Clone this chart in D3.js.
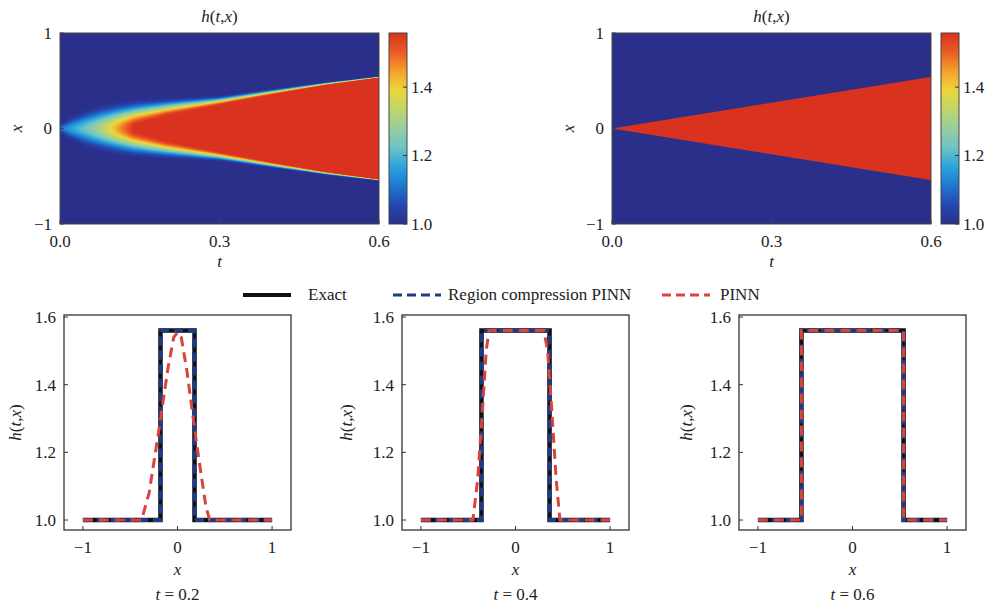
<!doctype html>
<html lang="en">
  <head>
    <meta charset="UTF-8" />
    <title>h(t,x) heat maps and profiles</title>
    <script src="https://cdn.jsdelivr.net/npm/d3@7"></script>
    <style>
      body { margin: 0; background: #fff; }
    </style>
  </head>
  <body>
    <div id="chart"></div>
    <script>
      // colour bar range and tick labels
      const hMin = 1.0;
      const hMax = 1.558;
      const barTicks = [1.0, 1.2, 1.4];
      const tTicks = [0.0, 0.3, 0.6];
      const xTicksTop = [-1, 0, 1];

      // exact solution: plateau height and front speed (x = speed * t)
      const hPlateau = 1.56;
      const frontSpeed = 0.9;

      // PINN heat map read column by column: centre value, plateau half width, outer half width
      const pinnT     = [0,    0.02, 0.05, 0.08, 0.11, 0.14, 0.2,  0.3,  0.4,  0.5,  0.6];
      const pinnPeak  = [1.1,  1.16, 1.23, 1.32, 1.45, 1.56, 1.56, 1.56, 1.56, 1.56, 1.56];
      const pinnInner = [0,    0,    0,    0,    0,    0.02, 0.12, 0.24, 0.35, 0.45, 0.53];
      const pinnOuter = [0.05, 0.14, 0.22, 0.27, 0.3,  0.32, 0.33, 0.35, 0.42, 0.49, 0.55];

      // profiles at t = 0.2, 0.4, 0.6
      const profileTimes = ["0.2", "0.4", "0.6"];
      const exactX = [
        [-1, -0.18, -0.18, 0.18, 0.18, 1],
        [-1, -0.36, -0.36, 0.36, 0.36, 1],
        [-1, -0.54, -0.54, 0.54, 0.54, 1]
      ];
      const exactH = [1, 1, 1.56, 1.56, 1, 1];
      const rcX = [
        [-1, -0.18, -0.175, 0.175, 0.18, 1],
        [-1, -0.36, -0.355, 0.355, 0.36, 1],
        [-1, -0.54, -0.54, 0.54, 0.54, 1]
      ];
      const rcH = [1, 1, 1.56, 1.56, 1, 1];
      const pinnX = [
        [-1, -0.38, -0.3, -0.2, -0.1, -0.04, 0, 0.04, 0.1, 0.2, 0.3, 0.34, 1],
        [-1, -0.45, -0.4, -0.35, -0.31, -0.28, 0.3, 0.34, 0.38, 0.43, 0.47, 1],
        [-1, -0.54, -0.54, 0.54, 0.54, 1]
      ];
      const pinnH = [
        [1, 1, 1.08, 1.26, 1.45, 1.54, 1.555, 1.54, 1.44, 1.23, 1.04, 1.0, 1],
        [1, 1, 1.12, 1.32, 1.5, 1.56, 1.56, 1.5, 1.34, 1.12, 1, 1],
        [1, 1, 1.56, 1.56, 1, 1]
      ];

      const legendNames = ["Exact", "Region compression PINN", "PINN"];

      const width = 991;
      const height = 603;
      const fs = 17;
      const svg = d3.select("#chart").append("svg")
        .attr("width", width)
        .attr("height", height)
        .attr("font-family", "Liberation Serif")
        .attr("font-size", fs)
        .attr("fill", "#222");

      // colormap (jet-like as printed)
      const cmapStops = [0, 0.1, 0.2, 0.3, 0.4, 0.5, 0.6, 0.7, 0.8, 0.9, 1];
      const cmapColors = ["#2a2f8a", "#2447b0", "#1e78d0", "#2aa5dc", "#6ec3c6", "#98cda0",
                          "#bfd667", "#ebd73c", "#f5a02c", "#ea5c24", "#d9321e"];
      const color = d3.scaleLinear()
        .domain(cmapStops.map(s => hMin + s * (hMax - hMin)))
        .range(cmapColors)
        .clamp(true);

      const peakAt = d3.scaleLinear().domain(pinnT).range(pinnPeak).clamp(true);
      const innerAt = d3.scaleLinear().domain(pinnT).range(pinnInner).clamp(true);
      const outerAt = d3.scaleLinear().domain(pinnT).range(pinnOuter).clamp(true);

      function pinnField(t, x) {
        const p = peakAt(t), a = innerAt(t), b = outerAt(t);
        const ax = Math.abs(x);
        if (ax <= a) return p;
        if (ax >= b) return 1;
        const s = (ax - a) / (b - a);
        return 1 + (p - 1) * 0.5 * (1 + Math.cos(Math.PI * s));
      }

      // exact field: blend straight from low to plateau colour across the front pixel
      const edgeMix = d3.interpolateRgb(color(1), color(hPlateau));
      function exactColor(t, x, px) {
        const f = Math.max(0, Math.min(1, (frontSpeed * t - Math.abs(x)) / px + 0.5));
        return edgeMix(f);
      }

      const topW = 319, topTop = 33, topBottom = 224;
      const topPanels = [
        { left: 60, field: "pinn" },
        { left: 612, field: "exact" }
      ];

      const defs = svg.append("defs");
      const grad = defs.append("linearGradient")
        .attr("id", "cbar").attr("x1", 0).attr("y1", 1).attr("x2", 0).attr("y2", 0);
      grad.selectAll("stop").data(cmapStops).enter().append("stop")
        .attr("offset", d => d)
        .attr("stop-color", (d, i) => cmapColors[i]);

      function italicLabel(g, parts) {
        parts.forEach(([s, it]) => {
          g.append("tspan").text(s).attr("font-style", it ? "italic" : "normal");
        });
      }
      const hLabel = [["h", true], ["(", false], ["t", true], [",", false], ["x", true], [")", false]];
      const minus = d => d < 0 ? "\u2212" + Math.abs(d) : d;

      topPanels.forEach(p => {
        const tx = d3.scaleLinear().domain([0, 0.6]).range([p.left, p.left + topW]);
        const xy = d3.scaleLinear().domain([-1, 1]).range([topBottom, topTop]);
        const g = svg.append("g");

        const w = topW, h = topBottom - topTop;
        const canvas = document.createElement("canvas");
        canvas.width = w; canvas.height = h;
        const ctx = canvas.getContext("2d");
        const img = ctx.createImageData(w, h);
        const pxUnit = 2 / h;
        for (let j = 0; j < h; j++) {
          const x = xy.invert(topTop + j + 0.5);
          for (let i = 0; i < w; i++) {
            const t = tx.invert(p.left + i + 0.5);
            const c = d3.rgb(p.field === "pinn" ? color(pinnField(t, x)) : exactColor(t, x, pxUnit));
            const k = (j * w + i) * 4;
            img.data[k] = c.r; img.data[k + 1] = c.g; img.data[k + 2] = c.b; img.data[k + 3] = 255;
          }
        }
        ctx.putImageData(img, 0, 0);
        g.append("image")
          .attr("x", p.left).attr("y", topTop)
          .attr("width", w).attr("height", h)
          .attr("preserveAspectRatio", "none")
          .attr("href", canvas.toDataURL());

        g.append("rect")
          .attr("x", p.left).attr("y", topTop).attr("width", w).attr("height", h)
          .attr("fill", "none").attr("stroke", "#444").attr("stroke-width", 1);

        // ticks inward
        g.selectAll(".tt").data(tTicks).enter().append("line")
          .attr("x1", d => tx(d)).attr("x2", d => tx(d))
          .attr("y1", topBottom).attr("y2", topBottom - 4)
          .attr("stroke", "#444");
        g.selectAll(".tl").data(tTicks).enter().append("text")
          .attr("x", d => tx(d)).attr("y", 247)
          .attr("text-anchor", "middle")
          .text(d => d.toFixed(1));
        g.selectAll(".yt").data(xTicksTop).enter().append("line")
          .attr("x1", p.left).attr("x2", p.left + 4)
          .attr("y1", d => xy(d)).attr("y2", d => xy(d))
          .attr("stroke", "#444");
        g.selectAll(".yl").data(xTicksTop).enter().append("text")
          .attr("x", p.left - 8).attr("y", d => xy(d)).attr("dy", "0.35em")
          .attr("text-anchor", "end")
          .text(minus);

        g.append("text").attr("x", p.left + topW / 2).attr("y", 267)
          .attr("text-anchor", "middle").attr("font-style", "italic")
          .text("t");
        g.append("text")
          .attr("transform", `translate(${p.left - 44},${(topTop + topBottom) / 2}) rotate(-90)`)
          .attr("dy", "0.35em")
          .attr("text-anchor", "middle").attr("font-style", "italic")
          .text("x");
        italicLabel(g.append("text").attr("x", p.left + topW / 2).attr("y", 22)
          .attr("text-anchor", "middle"), hLabel);

        // colour bar
        const cbX = p.left + 329, cbW = 18;
        const cb = d3.scaleLinear().domain([hMin, hMax]).range([topBottom, topTop]);
        g.append("rect").attr("x", cbX).attr("y", topTop).attr("width", cbW).attr("height", h)
          .attr("fill", "url(#cbar)").attr("stroke", "#444").attr("stroke-width", 1);
        g.selectAll(".cbt").data(barTicks).enter().append("line")
          .attr("x1", cbX + cbW - 4).attr("x2", cbX + cbW)
          .attr("y1", d => cb(d)).attr("y2", d => cb(d))
          .attr("stroke", "#333");
        g.selectAll(".cbl").data(barTicks).enter().append("text")
          .attr("x", cbX + cbW + 4).attr("y", d => cb(d)).attr("dy", "0.35em")
          .text(d => d.toFixed(1));
      });

      // legend
      const legendStyles = [
        { x: 243, stroke: "#111", dash: null, w: 4, tx: 308 },
        { x: 393, stroke: "#1f3b86", dash: "9,5", w: 3, tx: 448 },
        { x: 662, stroke: "#d9453a", dash: "9,5", w: 3, tx: 720 }
      ];
      const lg = svg.append("g");
      legendNames.forEach((name, i) => {
        const s = legendStyles[i];
        lg.append("line").attr("x1", s.x).attr("x2", s.x + 48).attr("y1", 295).attr("y2", 295)
          .attr("stroke", s.stroke).attr("stroke-width", s.w)
          .attr("stroke-dasharray", s.dash);
        lg.append("text").attr("x", s.tx).attr("y", 300).text(name);
      });

      // bottom profiles
      const botLeft = [64, 402, 739];
      const botW = 227, botTop = 315, botBottom = 530;
      const yLabelX = [15, 346, 686];
      const xTicksBot = [-1, 0, 1];
      const yTicksBot = [1.0, 1.2, 1.4, 1.6];

      profileTimes.forEach((tLabel, k) => {
        const left = botLeft[k];
        const x = d3.scaleLinear().domain([-1.2, 1.2]).range([left, left + botW]);
        const y = d3.scaleLinear().domain([0.9705, 1.606]).range([botBottom, botTop]);
        const g = svg.append("g");
        const line = d3.line().x(d => x(d[0])).y(d => y(d[1]));

        g.append("path").datum(d3.zip(exactX[k], exactH))
          .attr("d", line).attr("fill", "none")
          .attr("stroke", "#111").attr("stroke-width", 4.5);
        g.append("path").datum(d3.zip(rcX[k], rcH))
          .attr("d", line).attr("fill", "none")
          .attr("stroke", "#1f3b86").attr("stroke-width", 4)
          .attr("stroke-dasharray", "9,5");
        g.append("path").datum(d3.zip(pinnX[k], pinnH[k]))
          .attr("d", line).attr("fill", "none")
          .attr("stroke", "#d9453a").attr("stroke-width", 3)
          .attr("stroke-dasharray", "10,6");

        g.append("rect").attr("x", left).attr("y", botTop)
          .attr("width", botW).attr("height", botBottom - botTop)
          .attr("fill", "none").attr("stroke", "#333").attr("stroke-width", 1.3);

        g.selectAll(".xt").data(xTicksBot).enter().append("line")
          .attr("x1", d => x(d)).attr("x2", d => x(d))
          .attr("y1", botBottom).attr("y2", botBottom - 4).attr("stroke", "#333");
        g.selectAll(".xl").data(xTicksBot).enter().append("text")
          .attr("x", d => x(d)).attr("y", 553).attr("text-anchor", "middle")
          .text(minus);
        g.selectAll(".yt").data(yTicksBot).enter().append("line")
          .attr("x1", left).attr("x2", left + 4)
          .attr("y1", d => y(d)).attr("y2", d => y(d)).attr("stroke", "#333");
        g.selectAll(".yl").data(yTicksBot).enter().append("text")
          .attr("x", left - 8).attr("y", d => y(d)).attr("dy", "0.35em")
          .attr("text-anchor", "end")
          .text(d => d.toFixed(1));

        g.append("text").attr("x", left + botW / 2).attr("y", 575)
          .attr("text-anchor", "middle").attr("font-style", "italic")
          .text("x");
        const tl = g.append("text").attr("x", left + botW / 2).attr("y", 600)
          .attr("text-anchor", "middle");
        italicLabel(tl, [["t", true], [" = " + tLabel, false]]);

        italicLabel(g.append("text")
          .attr("transform", `translate(${yLabelX[k]},${(botTop + botBottom) / 2}) rotate(-90)`)
          .attr("dy", "0.35em").attr("text-anchor", "middle"), hLabel);
      });
    </script>
  </body>
</html>
